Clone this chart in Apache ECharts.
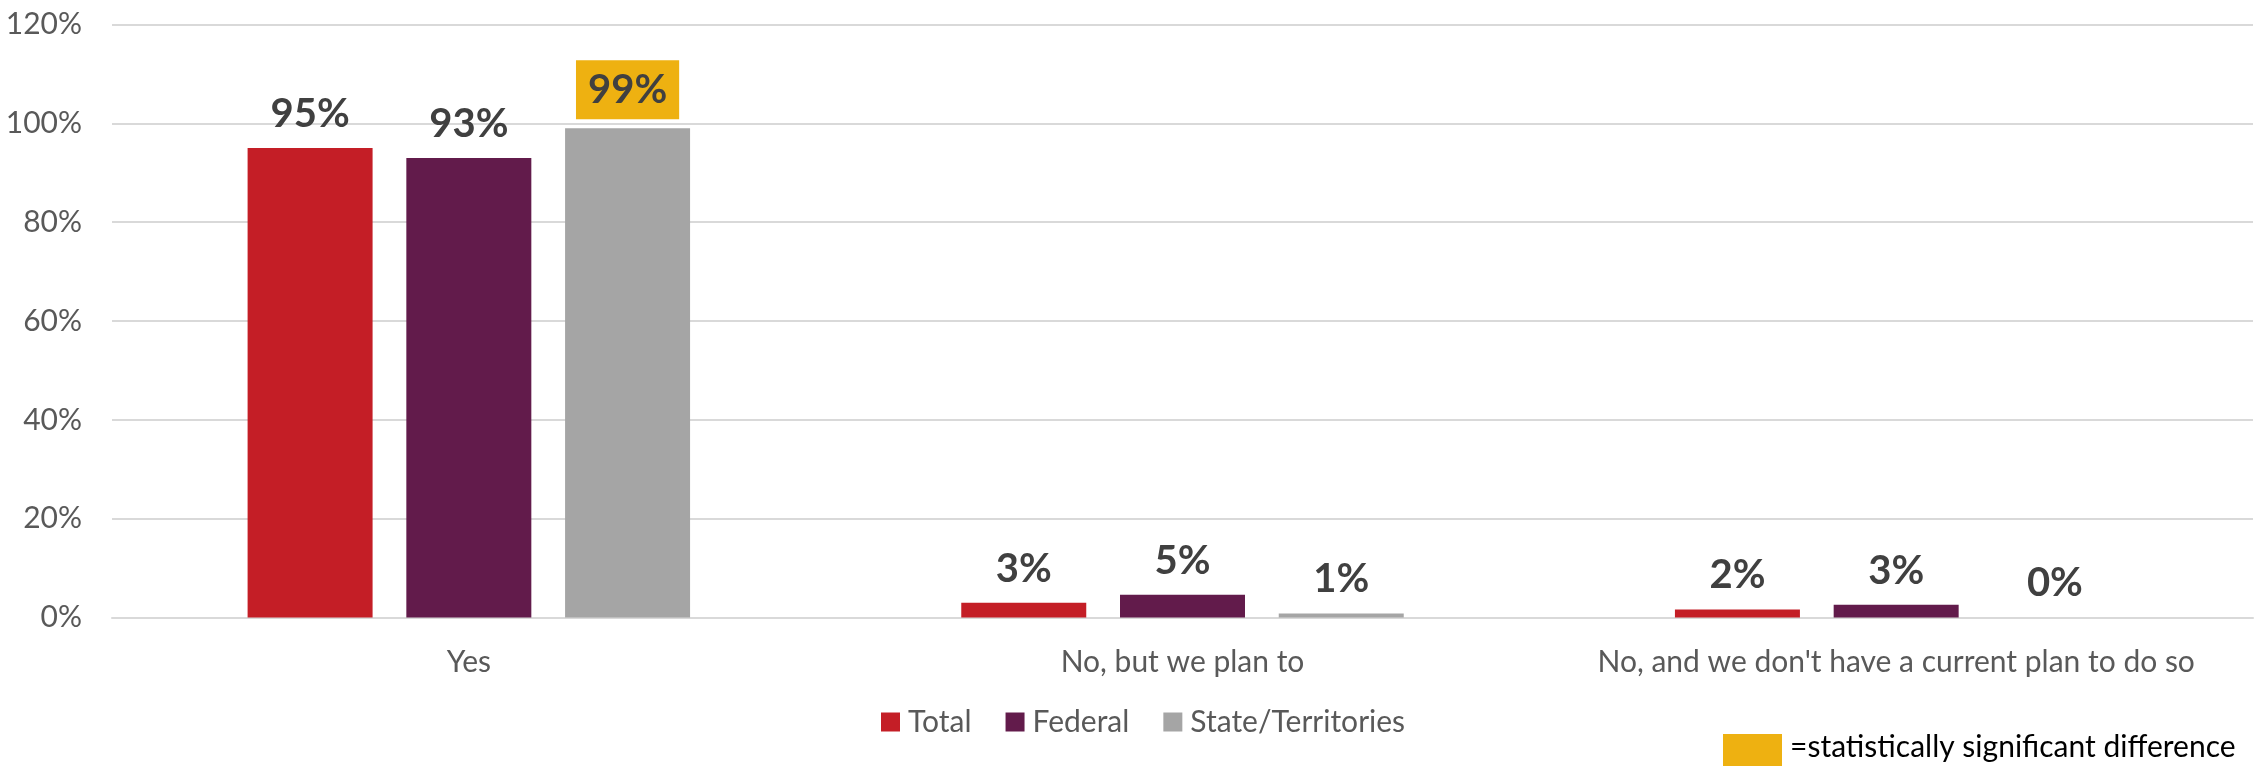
<!DOCTYPE html>
<html>
<head>
<meta charset="utf-8">
<title>ECharts</title>
<script src="https://cdn.jsdelivr.net/npm/echarts@6/dist/echarts.min.js"></script>
<style>
  html, body { margin: 0; padding: 0; background: #fff; }
</style>
</head>
<body>
<div id="main" style="width: 2257px;height:766px;"></div>
<script type="text/javascript">
  var categories = ['Yes', 'No, but we plan to', "No, and we don't have a current plan to do so"];
  var seriesNames = ['Total', 'Federal', 'State/Territories'];
  var total = [95, 3.0, 1.6];
  var federal = [93, 4.6, 2.6];
  var stateTerr = [99, 0.8, 0];
  // which state/territory values are statistically significant
  var stateSignificant = [true, false, false];
  var yTicks = [0, 20, 40, 60, 80, 100, 120];

  var colors = ['#C41E26', '#621B4B', '#A5A5A5'];
  var highlight = '#EEB111';
  var fontName = 'Lato';

  function labelStyle() {
    return {
      show: true,
      position: 'top',
      distance: 14,
      fontFamily: fontName,
      fontWeight: 'bold',
      fontSize: 40,
      color: '#404040',
      formatter: function (p) { return Math.round(p.value) + '%'; }
    };
  }

  var stateData = stateTerr.map(function (v, i) {
    if (stateSignificant[i]) {
      return {
        value: v,
        label: {
          backgroundColor: highlight,
          padding: [10, 12, 9, 12],
          distance: 9
        }
      };
    }
    return v;
  });

  var myChart = echarts.init(document.getElementById('main'));

  var option = {
    animation: false,
    color: colors,
    grid: {
      left: 112,
      right: 4,
      top: 24.5,
      bottom: 148.5,
      containLabel: false,
      outerBoundsMode: 'none'
    },
    legend: {
      data: seriesNames,
      left: 876,
      top: 702,
      itemWidth: 19,
      itemHeight: 19,
      itemGap: 34,
      icon: 'rect',
      textStyle: {
        fontFamily: fontName,
        fontSize: 30,
        color: '#595959',
        padding: [0, 0, 0, 3]
      }
    },
    xAxis: {
      type: 'category',
      data: categories,
      axisLine: { show: true, lineStyle: { color: '#D9D9D9', width: 2 } },
      axisTick: { show: false },
      axisLabel: {
        interval: 0,
        margin: 30,
        fontFamily: fontName,
        fontSize: 30,
        color: '#595959'
      }
    },
    yAxis: {
      type: 'value',
      min: yTicks[0],
      max: yTicks[yTicks.length - 1],
      interval: 20,
      axisLine: { show: false },
      axisTick: { show: false },
      axisLabel: {
        margin: 30,
        fontFamily: fontName,
        fontSize: 30,
        color: '#595959',
        formatter: '{value}%'
      },
      splitLine: { lineStyle: { color: '#D9D9D9', width: 2 } }
    },
    series: [
      {
        name: seriesNames[0],
        type: 'bar',
        barGap: '27%',
        barCategoryGap: '38%',
        data: total,
        label: labelStyle()
      },
      {
        name: seriesNames[1],
        type: 'bar',
        barGap: '27%',
        barCategoryGap: '38%',
        data: federal,
        label: labelStyle()
      },
      {
        name: seriesNames[2],
        type: 'bar',
        barGap: '27%',
        barCategoryGap: '38%',
        data: stateData,
        label: labelStyle()
      }
    ],
    graphic: [
      {
        type: 'rect',
        left: 1723,
        top: 734,
        shape: { width: 59, height: 40 },
        style: { fill: highlight }
      },
      {
        type: 'text',
        left: 1790,
        top: 732,
        style: {
          text: '=statistically significant difference',
          fontFamily: fontName,
          fontSize: 30,
          fill: '#000000'
        }
      }
    ]
  };

  myChart.setOption(option);
</script>
</body>
</html>
